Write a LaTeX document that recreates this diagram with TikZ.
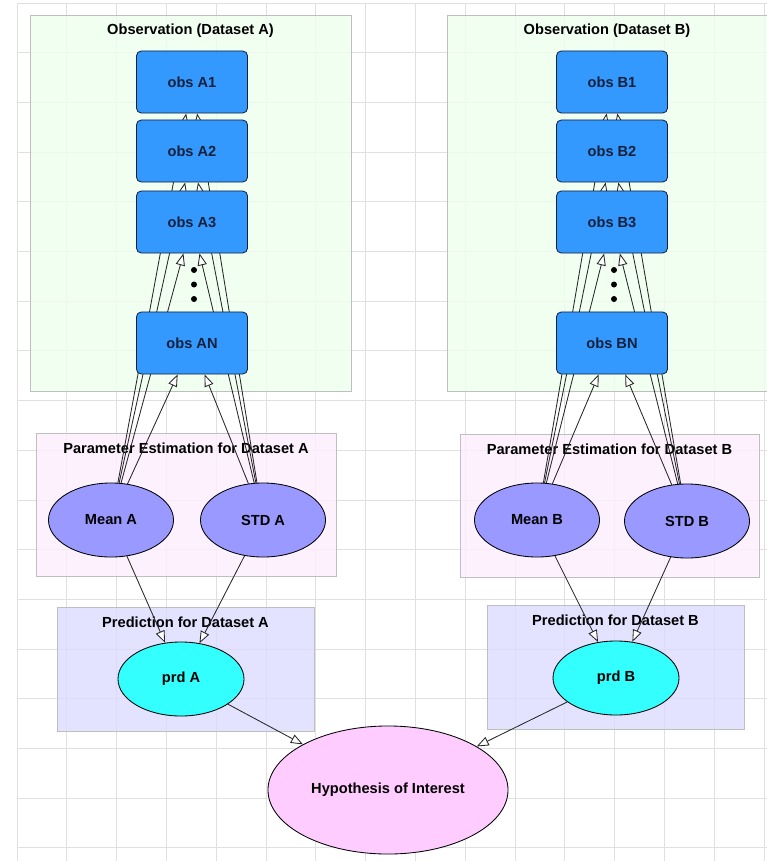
\documentclass[tikz,border=0pt]{standalone}
\usepackage{fontspec}
\setmainfont{Liberation Sans}
\usetikzlibrary{arrows.meta,shapes.geometric}
\definecolor{obsblue}{HTML}{3399FF}
\definecolor{obsline}{HTML}{15203A}
\definecolor{parcol}{HTML}{9999FF}
\definecolor{prdcol}{HTML}{33FFFF}
\definecolor{hypcol}{HTML}{FFCCFF}
\definecolor{grpgreen}{HTML}{EEFFEE}
\definecolor{grppink}{HTML}{FDEEFD}
\definecolor{grpblue}{HTML}{DCDCFF}
\pgfdeclarelayer{bg}\pgfdeclarelayer{edges}
\pgfsetlayers{bg,edges,main}
\tikzset{
  obsbox/.style={draw=obsline,line width=0.6pt,fill=obsblue,rounded corners=0.12cm,minimum width=2.775cm,minimum height=1.55cm,inner sep=0pt,text=obsline},
  parnode/.style={draw,line width=0.6pt,ellipse,fill=parcol,minimum width=3.125cm,minimum height=1.85cm,inner sep=0pt},
  grp/.style={draw=black!25,fill opacity=0.8,inner sep=0pt},
  arr/.style={draw=black!85,line width=0.6pt,-{Triangle[fill=white,length=0.3cm,width=0.23cm]}}
}
\begin{document}
\begin{tikzpicture}[x=0.025cm, y=-0.025cm, every node/.style={font=\bfseries\fontsize{10.4}{12}\selectfont}]
\useasboundingbox (0,0) rectangle (767,861);
% dataset A
\node[obsbox] (a1) at (192,82) {obs A1};
\node[obsbox] (a2) at (192,151) {obs A2};
\node[obsbox] (a3) at (192,222) {obs A3};
\node[obsbox] (an) at (192,343) {obs AN};
\node[parnode] (mA) at (111,520) {Mean A};
\node[parnode] (sA) at (263,520) {STD A};
\node[parnode,fill=prdcol,minimum width=3.15cm] (pA) at (181,679) {prd A};
% dataset B
\node[obsbox] (b1) at (612,82) {obs B1};
\node[obsbox] (b2) at (612,151) {obs B2};
\node[obsbox] (b3) at (612,222) {obs B3};
\node[obsbox] (bn) at (612,343) {obs BN};
\node[parnode] (mB) at (537,520) {Mean B};
\node[parnode] (sB) at (687,521) {STD B};
\node[parnode,fill=prdcol,minimum width=3.15cm] (pB) at (616,678) {prd B};
\node[parnode,fill=hypcol,minimum width=6cm,minimum height=3.2cm] (hyp) at (388,790) {Hypothesis of Interest};
\foreach \y in {270,284.5,299} {\fill (194,\y) circle (0.075cm); \fill (614,\y) circle (0.075cm);}
\begin{pgfonlayer}{edges}
\foreach \o in {a1,a2,a3,an} {\draw[arr] (mA) -- (\o); \draw[arr] (sA) -- (\o);}
\foreach \o in {b1,b2,b3,bn} {\draw[arr] (mB) -- (\o); \draw[arr] (sB) -- (\o);}
\draw[arr] (mA) -- (pA); \draw[arr] (sA) -- (pA); \draw[arr] (mB) -- (pB); \draw[arr] (sB) -- (pB);
\draw[arr] (pA) -- (hyp); \draw[arr] (pB) -- (hyp);
\end{pgfonlayer}
\begin{pgfonlayer}{bg}
\foreach \i in {0,...,15} \draw[black!12,line width=0.6pt] ({17+49.8*\i},3) -- ({17+49.8*\i},861);
\foreach \j in {0,...,17} \draw[black!12,line width=0.6pt] (17,{3+49.7*\j}) -- (767,{3+49.7*\j});
\node[grp,fill=grpgreen,minimum width=8.025cm,minimum height=9.4cm] (oA) at (190.5,203) {};
\node[grp,fill=grpgreen,minimum width=8cm,minimum height=9.4cm] (oB) at (607,203.5) {};
\node[grp,fill=grppink,minimum width=7.5cm,minimum height=3.575cm] (eA) at (186,504.5) {};
\node[grp,fill=grppink,minimum width=7.475cm,minimum height=3.575cm] (eB) at (609.5,505.5) {};
\node[grp,fill=grpblue,minimum width=6.425cm,minimum height=3.1cm] (rA) at (185.5,669) {};
\node[grp,fill=grpblue,minimum width=6.425cm,minimum height=3.1cm] (rB) at (615.5,667.5) {};
\node at ([yshift=-0.4cm]oA.north) {Observation (Dataset A)};
\node at ([yshift=-0.4cm]oB.north) {Observation (Dataset B)};
\node at ([yshift=-0.38cm]eA.north) {Parameter Estimation for Dataset A};
\node at ([yshift=-0.38cm]eB.north) {Parameter Estimation for Dataset B};
\node at ([yshift=-0.38cm]rA.north) {Prediction for Dataset A};
\node at ([yshift=-0.38cm]rB.north) {Prediction for Dataset B};
\end{pgfonlayer}
\end{tikzpicture}
\end{document}
